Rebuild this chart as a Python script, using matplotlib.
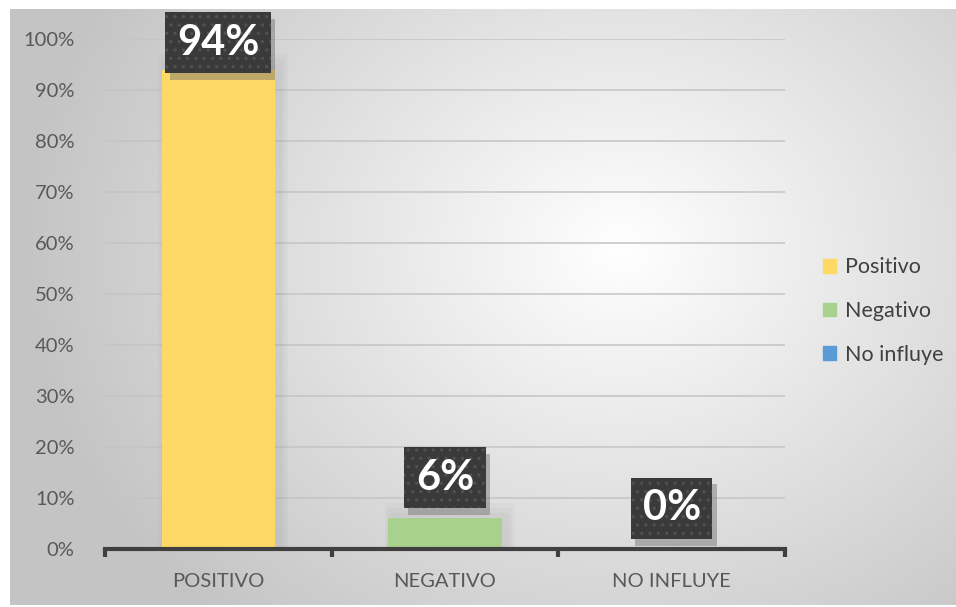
import numpy as np
import matplotlib
matplotlib.use("Agg")
import matplotlib.pyplot as plt
from matplotlib.patches import Rectangle
import matplotlib.patheffects as pe

plt.rcParams['font.family'] = ['Lato', 'DejaVu Sans']
plt.rcParams['hatch.linewidth'] = 1.2

categories = ["POSITIVO", "NEGATIVO", "NO INFLUYE"]
series = ["Positivo", "Negativo", "No influye"]
values = [0.94, 0.06, 0.0]
labels = ["94%", "6%", "0%"]
colors = ["#FFD966", "#A9D18E", "#5B9BD5"]
yticks = np.arange(0, 1.01, 0.1)


class PlainShadow(pe.SimplePatchShadow):
    # shadow without the hatch dots of the box
    def draw_path(self, renderer, gc, tpath, affine, rgbFace):
        gc1 = renderer.new_gc()
        gc1.copy_properties(gc)
        gc1.set_hatch(None)
        super().draw_path(renderer, gc1, tpath, affine, rgbFace)
        gc1.restore()


W, H = 956, 607
fig = plt.figure(figsize=(W / 100, H / 100), dpi=100)
fig.patch.set_facecolor("white")

# background with radial gradient
bg = fig.add_axes([10 / W, 2 / H, 946 / W, 596 / H])
bg.set_axis_off()
yy, xx = np.mgrid[0:596, 0:946]
d = np.sqrt(((xx - 610) / 620.0) ** 2 + ((yy - 240) / 520.0) ** 2)
g = np.clip(1.0 - 0.24 * d, 0.77, 1.0)
bg.imshow(np.dstack([g, g, g]), aspect="auto", extent=(0, 1, 0, 1), origin="upper")
bg.set_xlim(0, 1)
bg.set_ylim(0, 1)

ax = fig.add_axes([105 / W, (H - 549) / H, 680 / W, 510 / H])
ax.set_facecolor("none")
x = np.arange(len(categories))
ax.set_xlim(-0.5, len(categories) - 0.5)
ax.set_ylim(0, 1)

for yv in yticks[1:]:
    ax.axhline(yv, color="#c4c4c4", lw=1.1, zorder=1)

# soft shadows behind bars
for xi, v in zip(x, values):
    if v > 0:
        for k in range(3):
            grow = 0.012 * (k + 1)
            ax.add_patch(Rectangle((xi - 0.25 - grow + 0.02, 0), 0.5 + 2 * grow,
                                   v + 0.01 * (k + 1), color="#808080", alpha=0.05,
                                   lw=0, zorder=2))

bars = ax.bar(x, values, width=0.5, color=colors, zorder=3)

for xi, v, lab in zip(x, values, labels):
    ylab = min(v + 0.08, 0.993)
    t = ax.text(xi, ylab, lab, ha="center", va="center", fontsize=30,
                fontweight="bold", color="white", zorder=5,
                bbox=dict(boxstyle="square,pad=0.28", fc="#3a3a3a", ec="#505050",
                          lw=0, hatch=".."))
    t.get_bbox_patch().set_path_effects([
        PlainShadow(offset=(3, -5), shadow_rgbFace="#6e6e6e", alpha=0.45),
        pe.Normal()])

for s in ["top", "right", "left"]:
    ax.spines[s].set_visible(False)
ax.spines["bottom"].set_color("#404040")
ax.spines["bottom"].set_linewidth(3)
ax.spines["bottom"].set_zorder(6)

ax.set_yticks(yticks)
ax.set_yticklabels([f"{int(round(t * 100))}%" for t in yticks],
                   fontsize=14.5, color="#595959")
ax.tick_params(axis="y", length=0, pad=22)

ax.set_xticks(x)
ax.set_xticklabels(categories, fontsize=14.5, color="#595959")
ax.tick_params(axis="x", length=0, pad=17)
for edge in np.arange(-0.5, len(categories), 1.0):
    ax.plot([edge, edge], [0, -0.015], color="#404040", lw=3,
            clip_on=False, zorder=6, solid_capstyle="butt")

handles = [Rectangle((0, 0), 1, 1, color=c) for c in colors]
leg = fig.legend(handles, series, loc="center left",
                 bbox_to_anchor=(804 / W, 1 - 311 / H), frameon=False,
                 fontsize=15.5, handlelength=0.6, handleheight=0.6,
                 handletextpad=0.4, labelspacing=1.1, labelcolor="#404040")

fig.savefig("out.png", dpi=100)
